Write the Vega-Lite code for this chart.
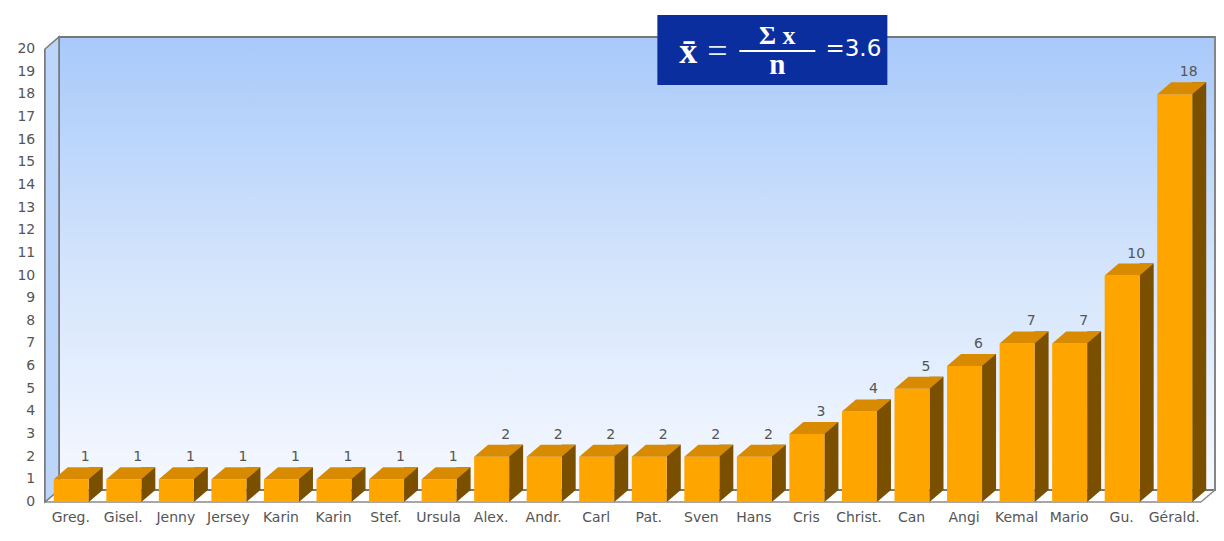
{
  "$schema": "https://vega.github.io/schema/vega-lite/v6.json",
  "width": 1156,
  "height": 453,
  "autosize": "none",
  "padding": {"left": 59, "top": 37, "right": 9, "bottom": 51},
  "background": "white",
  "config": {
    "view": {
      "fill": {"gradient": "linear", "x1": 0, "y1": 0, "x2": 0, "y2": 1,
        "stops": [{"offset": 0, "color": "#a8c9fa"}, {"offset": 0.5, "color": "#d3e4fc"}, {"offset": 1, "color": "#f6f9ff"}]},
      "stroke": "#777777",
      "strokeWidth": 2
    }
  },
  "datasets": {
    "people": [
      {"name": "Greg.", "v": 1},
      {"name": "Gisel.", "v": 1},
      {"name": "Jenny", "v": 1},
      {"name": "Jersey", "v": 1},
      {"name": "Karin", "v": 1},
      {"name": "Karin ", "v": 1},
      {"name": "Stef.", "v": 1},
      {"name": "Ursula", "v": 1},
      {"name": "Alex.", "v": 2},
      {"name": "Andr.", "v": 2},
      {"name": "Carl", "v": 2},
      {"name": "Pat.", "v": 2},
      {"name": "Sven", "v": 2},
      {"name": "Hans", "v": 2},
      {"name": "Cris", "v": 3},
      {"name": "Christ.", "v": 4},
      {"name": "Can", "v": 5},
      {"name": "Angi", "v": 6},
      {"name": "Kemal", "v": 7},
      {"name": "Mario", "v": 7},
      {"name": "Gu.", "v": 10},
      {"name": "Gérald.", "v": 18}
    ],
    "ticks": [
      {"t": 0}, {"t": 1}, {"t": 2}, {"t": 3}, {"t": 4}, {"t": 5}, {"t": 6}, {"t": 7}, {"t": 8}, {"t": 9}, {"t": 10},
      {"t": 11}, {"t": 12}, {"t": 13}, {"t": 14}, {"t": 15}, {"t": 16}, {"t": 17}, {"t": 18}, {"t": 19}, {"t": 20}
    ]
  },
  "data": {"name": "people"},
  "layer": [
    {
      "mark": {"type": "bar", "width": 14, "xOffset": 10.5, "color": "#7a4f00"},
      "encoding": {
        "x": {"field": "name", "type": "nominal", "sort": null,
          "scale": {"paddingInner": 0, "paddingOuter": 0},
          "axis": {"title": null, "labelAngle": 0, "labelFont": "DejaVu Sans", "labelFontSize": 14,
            "labelColor": "#555555", "ticks": false, "labelPadding": 9, "domainColor": "#8a8a8a",
            "domainWidth": 1.5, "offset": 26, "translate": -14, "labelOverlap": false, "labelBound": false}},
        "y": {"field": "v", "type": "quantitative", "scale": {"domain": [0, 20], "nice": false},
          "axis": {"title": null, "labels": false, "ticks": false, "grid": false,
            "domainColor": "#7a7a7a", "domainWidth": 2, "offset": 26, "translate": 12}}
      }
    },
    {
      "data": {"values": [{}]},
      "mark": {"type": "point", "shape": "M -40.3 12 L -40.3 -441 L -26.3 -453 L -26.3 0 Z", "size": 4,
        "filled": true, "opacity": 1, "fill": "#bcd5fa", "stroke": "#7a7a7a", "strokeWidth": 1.5},
      "encoding": {
        "x": {"datum": "Greg.", "type": "nominal"},
        "y": {"datum": 0, "type": "quantitative"}
      }
    },
    {
      "data": {"values": [{}]},
      "mark": {"type": "point", "shape": "M 1115.7 12 L 1129.7 0 L 1129.7 -453", "size": 4,
        "filled": false, "opacity": 1, "stroke": "#8a8a8a", "strokeWidth": 1.5},
      "encoding": {
        "x": {"datum": "Greg.", "type": "nominal"},
        "y": {"datum": 0, "type": "quantitative"}
      }
    },
    {
      "mark": {"type": "bar", "width": 35, "xOffset": -14, "yOffset": 12, "color": "#ffa500"},
      "encoding": {
        "x": {"field": "name", "type": "nominal", "sort": null},
        "y": {"field": "v", "type": "quantitative"}
      }
    },
    {
      "mark": {"type": "point", "shape": "M -17.5 0 L 17.5 0 L 31.5 -12 L -3.5 -12 Z", "size": 4,
        "filled": true, "opacity": 1, "color": "#d88a00", "strokeWidth": 0, "xOffset": -14, "yOffset": 12},
      "encoding": {
        "x": {"field": "name", "type": "nominal", "sort": null},
        "y": {"field": "v", "type": "quantitative"}
      }
    },
    {
      "mark": {"type": "point", "shape": "M 17.5 0 L 17.5 -12 L 31.5 -12 Z", "size": 4,
        "filled": true, "opacity": 1, "color": "#7a4f00", "strokeWidth": 0, "xOffset": -14, "yOffset": 12},
      "encoding": {
        "x": {"field": "name", "type": "nominal", "sort": null},
        "y": {"datum": 0, "type": "quantitative"}
      }
    },
    {
      "mark": {"type": "text", "baseline": "bottom", "dy": -3, "font": "DejaVu Sans", "fontSize": 14, "color": "#555555"},
      "encoding": {
        "x": {"field": "name", "type": "nominal", "sort": null},
        "y": {"field": "v", "type": "quantitative"},
        "text": {"field": "v", "type": "quantitative"}
      }
    },
    {
      "data": {"name": "ticks"},
      "mark": {"type": "text", "align": "right", "baseline": "middle", "dx": -50, "dy": 12,
        "font": "DejaVu Sans", "fontSize": 14, "color": "#555555"},
      "encoding": {
        "x": {"datum": "Greg.", "type": "nominal"},
        "y": {"field": "t", "type": "quantitative"},
        "text": {"field": "t", "type": "quantitative"}
      }
    },
    {
      "data": {"values": [{}]},
      "mark": {"type": "point", "shape": "M -115 -35 L 115 -35 L 115 35 L -115 35 Z", "size": 4,
        "filled": true, "opacity": 1, "color": "#0b2e9e", "strokeWidth": 0, "xOffset": 4, "yOffset": 13},
      "encoding": {
        "x": {"datum": "Hans", "type": "nominal"},
        "y": {"datum": 20, "type": "quantitative"}
      }
    },
    {
      "data": {"values": [{}]},
      "mark": {"type": "text", "text": "x̄", "align": "center", "baseline": "alphabetic", "dx": -80, "dy": 26,
        "font": "Liberation Serif", "fontWeight": "bold", "fontSize": 36, "color": "#ffffff"},
      "encoding": {
        "x": {"datum": "Hans", "type": "nominal"},
        "y": {"datum": 20, "type": "quantitative"}
      }
    },
    {
      "data": {"values": [{}]},
      "mark": {"type": "text", "text": "=", "align": "center", "baseline": "middle", "dx": -51, "dy": 15,
        "font": "Liberation Serif", "fontSize": 36, "color": "#e8ecf8"},
      "encoding": {
        "x": {"datum": "Hans", "type": "nominal"},
        "y": {"datum": 20, "type": "quantitative"}
      }
    },
    {
      "data": {"values": [{}]},
      "mark": {"type": "text", "text": "Σ x", "align": "center", "baseline": "alphabetic", "dx": 9, "dy": 7,
        "font": "Liberation Serif", "fontWeight": "bold", "fontSize": 26, "color": "#ffffff"},
      "encoding": {
        "x": {"datum": "Hans", "type": "nominal"},
        "y": {"datum": 20, "type": "quantitative"}
      }
    },
    {
      "data": {"values": [{}]},
      "mark": {"type": "point", "shape": "M -38 0 L 38 0", "size": 4, "filled": false, "opacity": 1,
        "color": "#ffffff", "strokeWidth": 2, "xOffset": 9, "yOffset": 14},
      "encoding": {
        "x": {"datum": "Hans", "type": "nominal"},
        "y": {"datum": 20, "type": "quantitative"}
      }
    },
    {
      "data": {"values": [{}]},
      "mark": {"type": "text", "text": "n", "align": "center", "baseline": "alphabetic", "dx": 9, "dy": 37,
        "font": "Liberation Serif", "fontWeight": "bold", "fontSize": 29, "color": "#ffffff"},
      "encoding": {
        "x": {"datum": "Hans", "type": "nominal"},
        "y": {"datum": 20, "type": "quantitative"}
      }
    },
    {
      "data": {"values": [{}]},
      "mark": {"type": "text", "text": "=3.6", "align": "center", "baseline": "alphabetic", "dx": 85, "dy": 19,
        "font": "DejaVu Sans", "fontSize": 23, "color": "#ffffff"},
      "encoding": {
        "x": {"datum": "Hans", "type": "nominal"},
        "y": {"datum": 20, "type": "quantitative"}
      }
    }
  ]
}
